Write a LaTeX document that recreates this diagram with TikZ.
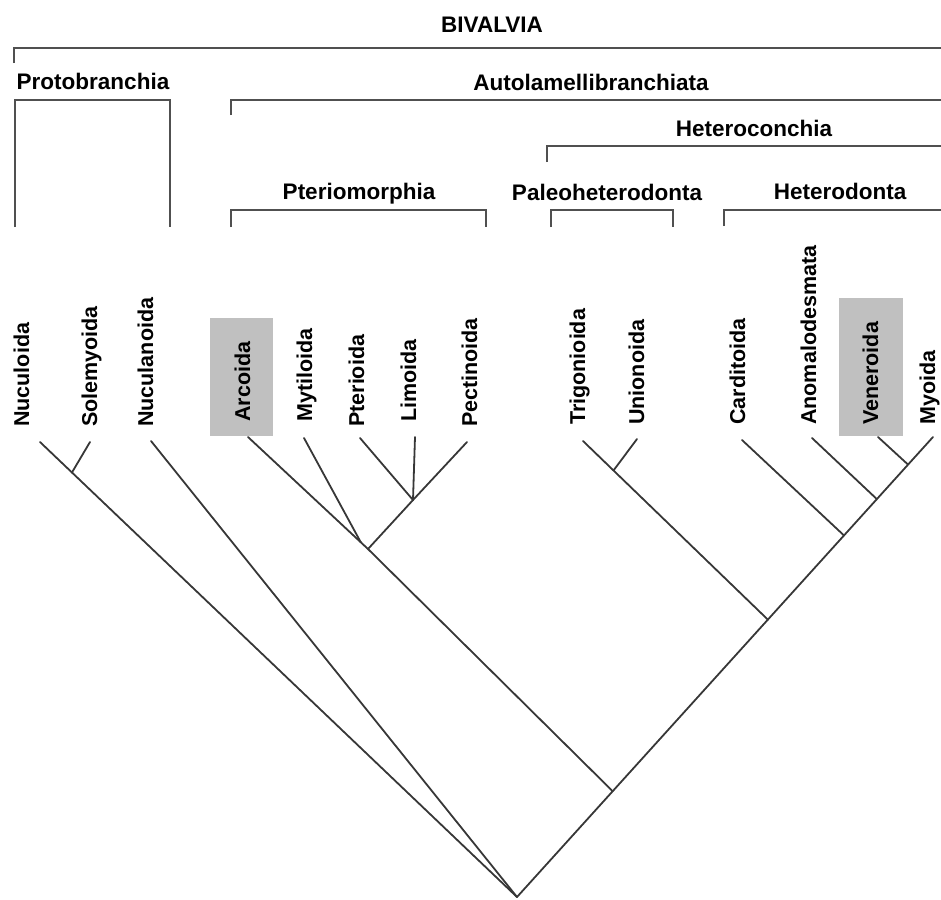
\documentclass[tikz,border=0pt]{standalone}
\usepackage{fontspec}
\setmainfont{Liberation Sans}
\usetikzlibrary{calc}
\definecolor{boxgray}{RGB}{192,192,192}
\definecolor{treeline}{RGB}{55,55,55}
\definecolor{brackline}{RGB}{80,80,80}
\begin{document}
\begin{tikzpicture}[x=1pt,y=-1pt,
  head/.style={anchor=base,inner sep=0pt,font=\bfseries\fontsize{22.5}{27}\selectfont},
  leaf/.style={rotate=90,anchor=base west,inner sep=0pt,font=\bfseries\fontsize{21.5}{26}\selectfont},
  brack/.style={draw=brackline,line width=2.2pt,line cap=butt},
  branch/.style={draw=treeline,line width=1.8pt,line cap=round}]
\useasboundingbox (0,0) rectangle (941,899);
% highlight boxes
\fill[boxgray] (210,318) rectangle (273,436);
\fill[boxgray] (839,298) rectangle (903,436);
% group labels
\node[head] (hBiv) at (492,33) {BIVALVIA};
\node[head] (hPro) at (93,89) {Protobranchia};
\node[head] (hAut) at (591,90) {Autolamellibranchiata};
\node[head] (hHcc) at (754,136) {Heteroconchia};
\node[head] (hPte) at (359,199) {Pteriomorphia};
\node[head] (hPal) at (607,200) {Paleoheterodonta};
\node[head] (hHet) at (840,199) {Heterodonta};
% brackets
\draw[brack] (14,63) -- (14,48) -- (945,48);
\draw[brack] (15,227) -- (15,100) -- (170,100) -- (170,227);
\draw[brack] (231,115) -- (231,100) -- (945,100);
\draw[brack] (547,162) -- (547,146) -- (945,146);
\draw[brack] (231,227) -- (231,210) -- (486,210) -- (486,227);
\draw[brack] (551,227) -- (551,210) -- (673,210) -- (673,227);
\draw[brack] (724,226) -- (724,210) -- (945,210);
% leaf labels
\node[leaf] (lNuc) at (29,427) {Nuculoida};
\node[leaf] (lSol) at (97,427) {Solemyoida};
\node[leaf] (lNcl) at (153,427) {Nuculanoida};
\node[leaf] (lArc) at (250,422) {Arcoida};
\node[leaf] (lMyt) at (312,422) {Mytiloida};
\node[leaf] (lPtr) at (364,427) {Pterioida};
\node[leaf] (lLim) at (416,422) {Limoida};
\node[leaf] (lPec) at (477,427) {Pectinoida};
\node[leaf] (lTri) at (585,425) {Trigonioida};
\node[leaf] (lUni) at (644,425) {Unionoida};
\node[leaf] (lCar) at (745,425) {Carditoida};
\node[leaf] (lAno) at (816,425) {Anomalodesmata};
\node[leaf] (lVen) at (878,425) {Veneroida};
\node[leaf] (lMyo) at (935,425) {Myoida};
% branch tips
\coordinate (tNuc) at (40,442);
\coordinate (tSol) at (90,442);
\coordinate (tNcl) at (151,441);
\coordinate (tArc) at (248,437);
\coordinate (tMyt) at (304,438);
\coordinate (tPtr) at (360,438);
\coordinate (tLim) at (415,437);
\coordinate (tPec) at (467,442);
\coordinate (tTri) at (583,441);
\coordinate (tUni) at (637,439);
\coordinate (tCar) at (742,440);
\coordinate (tAno) at (812,438);
\coordinate (tVen) at (878,437);
\coordinate (tMyo) at (933,437);
% internal nodes
\coordinate (R) at (517,897);
\coordinate (jSol) at ($(tNuc)!0.067!(R)$);
\coordinate (jLim) at (413,500);
\coordinate (jPter) at (368,549);
\coordinate (jMyt) at ($(tArc)!0.94!(jPter)$);
\coordinate (jVen) at ($(tMyo)!0.06!(R)$);
\coordinate (jAno) at ($(tMyo)!0.135!(R)$);
\coordinate (jCar) at ($(tMyo)!0.214!(R)$);
\coordinate (jHet) at ($(tMyo)!0.397!(R)$);
\coordinate (jAuto) at ($(tMyo)!0.77!(R)$);
\coordinate (jPal) at ($(tTri)!0.165!(jHet)$);
% branches
\draw[branch] (tNuc) -- (R);
\draw[branch] (tSol) -- (jSol);
\draw[branch] (tNcl) -- (R);
\draw[branch] (tArc) -- (jPter) -- (jAuto);
\draw[branch] (tMyt) -- (jMyt);
\draw[branch] (tPtr) -- (jLim);
\draw[branch] (tLim) -- (jLim);
\draw[branch] (tPec) -- (jLim) -- (jPter);
\draw[branch] (tTri) -- (jPal) -- (jHet);
\draw[branch] (tUni) -- (jPal);
\draw[branch] (tCar) -- (jCar);
\draw[branch] (tAno) -- (jAno);
\draw[branch] (tVen) -- (jVen);
\draw[branch] (tMyo) -- (R);
\end{tikzpicture}
\end{document}
